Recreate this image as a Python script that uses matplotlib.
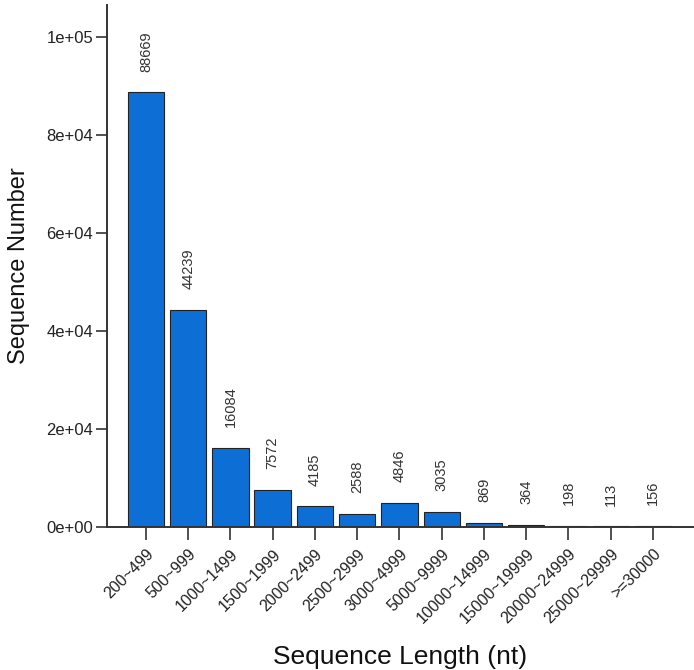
import matplotlib
matplotlib.use("Agg")
import matplotlib.pyplot as plt
import numpy as np

plt.rcParams['font.family'] = ['Liberation Sans', 'DejaVu Sans']

categories = ["200~499", "500~999", "1000~1499", "1500~1999", "2000~2499",
              "2500~2999", "3000~4999", "5000~9999", "10000~14999",
              "15000~19999", "20000~24999", "25000~29999", ">=30000"]
counts = [88669, 44239, 16084, 7572, 4185, 2588, 4846, 3035, 869, 364, 198, 113, 156]
ytick_values = [0, 20000, 40000, 60000, 80000, 100000]
ytick_labels = ["0e+00", "2e+04", "4e+04", "6e+04", "8e+04", "1e+05"]

fig = plt.figure(figsize=(6.94, 6.70), dpi=100)
ax = fig.add_axes([107 / 694, 143 / 670, 1 - 107 / 694, (527 - 5) / 670])

x = np.arange(len(categories))
ax.bar(x, counts, width=0.86, color="#0d6fd5", edgecolor="#222222", linewidth=0.8)

for xi, v in zip(x, counts):
    ax.annotate(str(v), (xi, v), xytext=(0, 15), textcoords="offset points",
                rotation=90, ha="center", va="bottom", fontsize=10.5, color="#333333")

ax.set_xlim(-0.92, 12.97)
ax.set_ylim(0, 106500)
ax.set_yticks(ytick_values)
ax.set_yticklabels(ytick_labels, fontsize=12, color="#222222")
ax.set_xticks(x)
ax.set_xticklabels(categories, rotation=45, ha="right", rotation_mode="anchor",
                   fontsize=11.5, color="#222222")
ax.tick_params(axis="y", length=8, width=1.2, pad=2, color="#333333")
ax.tick_params(axis="x", length=9, width=1.2, pad=5, color="#333333")

for side in ("top", "right"):
    ax.spines[side].set_visible(False)
for side in ("left", "bottom"):
    ax.spines[side].set_linewidth(1.4)
    ax.spines[side].set_color("#333333")

ax.set_ylabel("Sequence Number", fontsize=17, color="#111111", labelpad=12)
ax.set_xlabel("Sequence Length (nt)", fontsize=19, color="#111111", labelpad=13)

fig.savefig("out.png", dpi=100)
